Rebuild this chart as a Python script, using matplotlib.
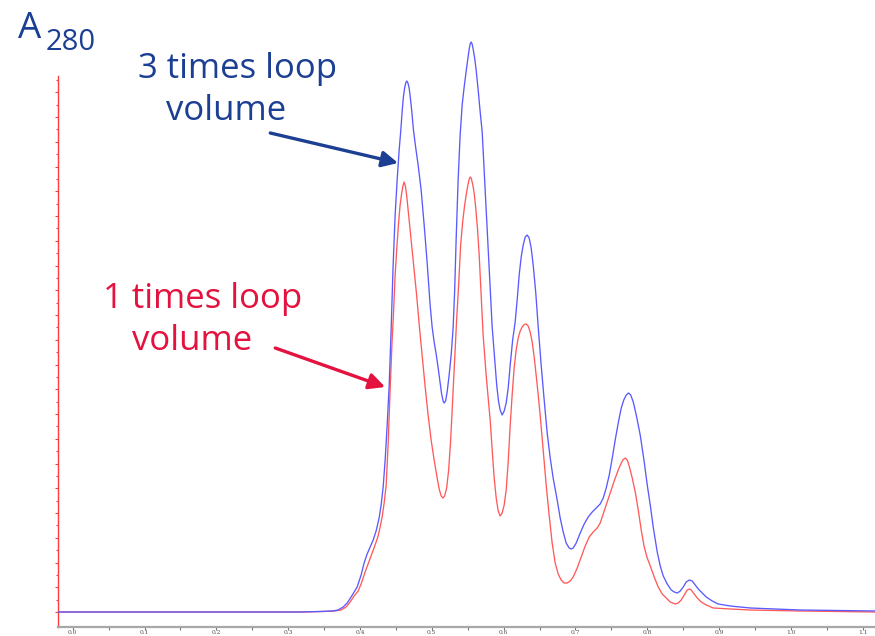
import matplotlib
matplotlib.use("Agg")
import matplotlib.pyplot as plt
from matplotlib.patches import FancyArrowPatch
import numpy as np

# ---- data (x: elution volume, y: A280, arbitrary units) ----
blue_x = [-0.020, 0.1077, 0.2469, 0.3166, 0.3445, 0.3612, 0.3695, 0.3765, 0.3821, 0.3876,
          0.3918, 0.3960, 0.4015, 0.4057, 0.4099, 0.4141, 0.4183, 0.4224, 0.4266, 0.4294,
          0.4322, 0.4350, 0.4378, 0.4405, 0.4433, 0.4461, 0.4489, 0.4517, 0.4545, 0.4568,
          0.4586, 0.4604, 0.4621, 0.4636, 0.4652, 0.4667, 0.4684, 0.4698, 0.4719, 0.4744,
          0.4774, 0.4809, 0.4851, 0.4893, 0.4935, 0.4976, 0.5004, 0.5032, 0.5060, 0.5088,
          0.5116, 0.5136, 0.5157, 0.5171, 0.5192, 0.5213, 0.5241, 0.5269, 0.5297, 0.5318,
          0.5338, 0.5366, 0.5394, 0.5422, 0.5450, 0.5478, 0.5499, 0.5520, 0.5533, 0.5547,
          0.5561, 0.5575, 0.5596, 0.5617, 0.5645, 0.5673, 0.5701, 0.5728, 0.5766, 0.5798,
          0.5840, 0.5875, 0.5903, 0.5928, 0.5951, 0.5979, 0.6007, 0.6035, 0.6063, 0.6091,
          0.6125, 0.6160, 0.6188, 0.6216, 0.6244, 0.6272, 0.6300, 0.6328, 0.6355, 0.6383,
          0.6411, 0.6446, 0.6481, 0.6522, 0.6564, 0.6606, 0.6648, 0.6689, 0.6745, 0.6787,
          0.6829, 0.6870, 0.6912, 0.6940, 0.6968, 0.7010, 0.7066, 0.7121, 0.7177, 0.7233,
          0.7289, 0.7344, 0.7386, 0.7428, 0.7470, 0.7512, 0.7553, 0.7595, 0.7637, 0.7672,
          0.7707, 0.7738, 0.7769, 0.7804, 0.7846, 0.7901, 0.7957, 0.7999, 0.8041, 0.8082,
          0.8138, 0.8180, 0.8222, 0.8277, 0.8333, 0.8375, 0.8417, 0.8459, 0.8500, 0.8542,
          0.8584, 0.8625, 0.8667, 0.8709, 0.8751, 0.8820, 0.8904, 0.8987, 0.9154, 0.9433,
          1.0130, 1.1174]
blue_y = [0, 0, 0, 0, 0.5, 1, 2, 5, 9, 15,
          20, 25, 37, 49, 58, 65, 72, 81, 94, 107,
          125, 152, 187, 225, 282, 347, 397, 432, 462, 482,
          500, 515, 524, 529, 531, 529, 524, 516, 502, 482,
          465, 447, 422, 387, 349, 307, 285, 270, 258, 244,
          229, 218, 211, 209, 211, 220, 237, 257, 285, 322,
          372, 432, 477, 507, 525, 541, 552, 563, 568, 570,
          568, 563, 554, 542, 522, 500, 480, 442, 387, 342,
          285, 252, 227, 211, 202, 197, 201, 209, 224, 247,
          272, 290, 312, 337, 355, 367, 375, 377, 374, 364,
          347, 320, 285, 247, 212, 179, 154, 134, 112, 94,
          80, 69, 64, 63, 64, 69, 79, 88, 95, 100,
          104, 108, 114, 124, 137, 154, 172, 189, 204, 212,
          217, 219, 217, 210, 197, 177, 150, 127, 107, 85,
          60, 46, 36, 28, 22, 20, 19, 21, 25, 30,
          32, 31, 27, 23, 20, 15, 11, 8, 6, 4,
          2, 1]

red_x = [-0.020, 0.1077, 0.2469, 0.3166, 0.3473, 0.3653, 0.3737, 0.3807, 0.3862, 0.3918,
         0.3974, 0.4015, 0.4071, 0.4127, 0.4169, 0.4210, 0.4252, 0.4280, 0.4308, 0.4336,
         0.4364, 0.4391, 0.4419, 0.4447, 0.4465, 0.4489, 0.4513, 0.4538, 0.4558, 0.4579,
         0.4597, 0.4614, 0.4631, 0.4649, 0.4670, 0.4695, 0.4722, 0.4754, 0.4788, 0.4827,
         0.4865, 0.4907, 0.4948, 0.4990, 0.5032, 0.5074, 0.5102, 0.5130, 0.5153, 0.5178,
         0.5206, 0.5234, 0.5262, 0.5290, 0.5318, 0.5345, 0.5373, 0.5401, 0.5429, 0.5457,
         0.5478, 0.5499, 0.5520, 0.5533, 0.5547, 0.5568, 0.5589, 0.5610, 0.5635, 0.5659,
         0.5687, 0.5714, 0.5756, 0.5784, 0.5812, 0.5840, 0.5868, 0.5896, 0.5924, 0.5951,
         0.5979, 0.6007, 0.6035, 0.6063, 0.6091, 0.6118, 0.6146, 0.6174, 0.6202, 0.6230,
         0.6258, 0.6286, 0.6314, 0.6341, 0.6369, 0.6397, 0.6425, 0.6467, 0.6508, 0.6550,
         0.6592, 0.6633, 0.6675, 0.6717, 0.6759, 0.6801, 0.6843, 0.6884, 0.6926, 0.6968,
         0.7024, 0.7080, 0.7135, 0.7191, 0.7247, 0.7302, 0.7344, 0.7386, 0.7428, 0.7484,
         0.7539, 0.7595, 0.7637, 0.7665, 0.7693, 0.7721, 0.7748, 0.7790, 0.7832, 0.7874,
         0.7915, 0.7957, 0.7999, 0.8041, 0.8096, 0.8152, 0.8208, 0.8263, 0.8319, 0.8389,
         0.8430, 0.8472, 0.8514, 0.8556, 0.8584, 0.8611, 0.8653, 0.8695, 0.8751, 0.8820,
         0.8918, 0.9154, 0.9433, 1.0130, 1.1174]
red_y = [0, 0, 0, 0, 0.5, 1, 2, 5, 10, 16,
         21, 28, 40, 51, 59, 67, 76, 85, 95, 109,
         127, 167, 222, 272, 297, 337, 365, 390, 407, 418,
         426, 430, 426, 417, 402, 385, 365, 342, 317, 285,
         257, 225, 197, 172, 152, 134, 123, 116, 114, 116,
         124, 142, 172, 212, 252, 292, 327, 367, 390, 407,
         417, 426, 433, 435, 434, 428, 419, 405, 384, 357,
         317, 277, 237, 214, 192, 162, 134, 114, 101, 96,
         99, 107, 122, 150, 187, 217, 244, 262, 274, 281,
         285, 287.5, 288, 286, 280, 270, 255, 227, 197, 162,
         127, 97, 69, 49, 38, 32, 29, 29, 31, 35,
         44, 55, 66, 75, 80, 84, 89, 98, 107, 119,
         131, 142, 149, 152.5, 154, 152, 146, 134, 120, 102,
         82, 65, 54, 46, 35, 25, 18, 14, 10, 8,
         9, 12, 17, 22, 23, 22, 18, 14, 10, 7,
         4, 3, 2, 1, 0]

x_ticks = [0.0, 0.1, 0.2, 0.3, 0.4, 0.5, 0.6, 0.7, 0.8, 0.9, 1.0, 1.1]
x_tick_labels = ["0.0", "0.1", "0.2", "0.3", "0.4", "0.5", "0.6", "0.7", "0.8", "0.9", "1.0", "1.1"]

label_3x = ["3 times loop", "volume"]
label_1x = ["1 times loop", "volume"]

# ---- figure ----
W, H = 875, 636
fig = plt.figure(figsize=(W / 100, H / 100), dpi=100)
ax = fig.add_axes([58 / W, 9 / H, 1 - 58 / W, 1 - 9 / H])
ax.set_xlim(-0.0205, 1.117)
ax.set_ylim(-15, 612)

ax.plot(red_x, red_y, color="#ff5a5a", lw=0.95, zorder=3, solid_joinstyle="round")
ax.plot(blue_x, blue_y, color="#5a5aff", lw=0.95, zorder=4, solid_joinstyle="round")

for s in ("top", "right"):
    ax.spines[s].set_visible(False)
ax.spines["left"].set_color("#ff3b3b")
ax.spines["left"].set_linewidth(1.0)
ax.spines["left"].set_bounds(-15, 536)
ax.spines["bottom"].set_color("#a8a8a8")
ax.spines["bottom"].set_linewidth(1.6)

step = 24.75
ax.set_yticks(np.arange(0, 536, step))
ax.set_yticks(np.arange(step / 2, 536, step), minor=True)
ax.tick_params(axis="y", which="major", direction="out", length=2.2, width=0.8,
               color="#ff3b3b", labelleft=False)
ax.tick_params(axis="y", which="minor", direction="out", length=1.2, width=0.8,
               color="#ff3b3b", labelleft=False)

ax.set_xticks(x_ticks)
ax.set_xticklabels(x_tick_labels, fontsize=4.3, color="#505050", family="DejaVu Serif")
ax.set_xticks(np.arange(0.05, 1.12, 0.1), minor=True)
ax.tick_params(axis="x", which="major", direction="out", length=2.0, width=0.8,
               color="#777777", pad=0.4)
ax.tick_params(axis="x", which="minor", direction="out", length=1.8, width=0.8,
               color="#777777")

# ---- annotations ----
navy = "#1c3f93"
crimson = "#e3123f"
font = "Open Sans"

fig.text(18 / W, 1 - 38 / H, "A", fontsize=26.5, color=navy, family=font,
         ha="left", va="baseline")
fig.text(46 / W, 1 - 50 / H, "280", fontsize=21, color=navy, family=font,
         ha="left", va="baseline")

ax.text(0.229, 543, label_3x[0], fontsize=25, color=navy, family=font,
        ha="center", va="center")
ax.text(0.214, 501, label_3x[1], fontsize=25, color=navy, family=font,
        ha="center", va="center")
ax.text(0.181, 313, label_1x[0], fontsize=25, color=crimson, family=font,
        ha="center", va="center")
ax.text(0.166, 271, label_1x[1], fontsize=25, color=crimson, family=font,
        ha="center", va="center")

ax.add_patch(FancyArrowPatch((0.275, 479), (0.453, 449), arrowstyle="-|>",
                             mutation_scale=24, lw=2.4, color=navy, zorder=6,
                             shrinkA=0, shrinkB=0))
ax.add_patch(FancyArrowPatch((0.282, 264), (0.435, 225), arrowstyle="-|>",
                             mutation_scale=24, lw=2.4, color=crimson, zorder=6,
                             shrinkA=0, shrinkB=0))

fig.savefig("out.png", dpi=100)
